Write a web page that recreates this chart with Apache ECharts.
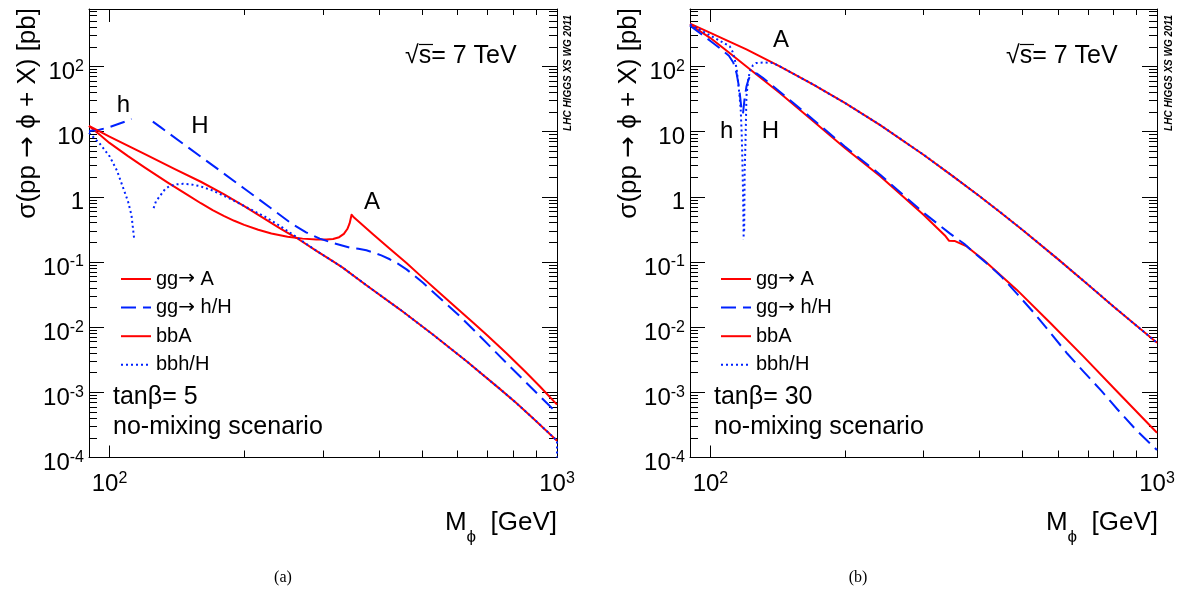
<!DOCTYPE html>
<html><head><meta charset="utf-8">
<script src="https://cdn.jsdelivr.net/npm/echarts@6/dist/echarts.min.js"></script>
<style>html,body{margin:0;padding:0;background:#fff}#c{width:1182px;height:597px}</style>
</head><body><div id="c"></div>
<script>
const FONT = '"Liberation Sans", Arial, Helvetica, sans-serif';
const AFONT = '"DejaVu Sans", sans-serif';
const xMin = 90, xMax = 1000, yMin = 1e-4, yMax = 760;
const xMajorTicks = [100, 1000];
const xMinorTicks = [200, 300, 400, 500, 600, 700, 800, 900];
const yDecades = [1e-4, 1e-3, 1e-2, 1e-1, 1, 10, 100];
const yMinorMult = [2, 3, 4, 5, 6, 7, 8, 9];
const legendNames = ['gg→ A', 'gg→ h/H', 'bbA', 'bbh/H'];

// ---- tan(beta) = 5 ----
const ggA5 = [[90,12.2],[95,9.0],[100,6.7],[110,4.2],[120,2.8],[135,1.65],[150,1.05],[160,0.796],[170,0.625],[180,0.509],[190,0.428],[200,0.371],[215,0.312],[230,0.274],[250,0.244],[270,0.228],[290,0.221],[305,0.221],[316,0.225],[326,0.24],[334,0.27],[340,0.32],[344,0.39],[347.5,0.53],[352,0.48],[388,0.267],[423,0.16],[461,0.0966],[500,0.058],[547,0.0335],[600,0.019],[650,0.01167],[700,0.00737],[771,0.00398],[850,0.00207],[916,0.00123],[1000,0.000647]];
const ggh5 = [[90,10.2],[95,10.7],[100,11.7],[105,13.2],[110,14.8],[112,15.6]];
const ggH5 = [[125,14.2],[130,11.7],[150,5.7],[175,2.63],[200,1.34],[230,0.66],[255,0.39],[275,0.285],[295,0.228],[316,0.195],[344,0.166],[360,0.160],[375,0.151],[390,0.139],[405,0.126],[423,0.110],[440,0.095],[461,0.077],[502,0.048],[547,0.028],[600,0.0158],[650,0.0092],[771,0.00282],[916,0.00087],[1000,0.00048]];
const bbA5 = [[90,12.2],[100,8.4],[120,4.5],[140,2.65],[160,1.7],[180,1.1],[200,0.72],[220,0.48],[240,0.33],[262,0.233],[290,0.148],[316,0.102],[332,0.082],[375,0.044],[446,0.0186],[528,0.0077],[628,0.0030],[745,0.00113],[810,0.00069],[885,0.000398],[1000,0.000181]];
const bbh5 = [[90,9.6],[95,6.6],[100,4.2],[104,2.5],[107,1.44],[110,0.85],[112,0.52],[113.5,0.23]];
const bbH5 = [[125.5,0.67],[127,0.85],[129.4,1.01],[133,1.3],[136,1.45],[141,1.55],[146,1.58],[152,1.55],[159,1.46],[170,1.25],[188,0.9],[205,0.66],[222,0.5],[240,0.36],[262,0.24],[290,0.148],[316,0.102],[332,0.082],[375,0.044],[446,0.0186],[528,0.0077],[628,0.0030],[745,0.00113],[810,0.00069],[885,0.000398],[1000,0.000181],[1000,0.0001]];

// ---- tan(beta) = 30 ----
const ggA30 = [[90,440],[100,272],[110,163],[120.4,100],[143,39],[170,14.4],[200,5.6],[240,2.06],[300,0.53],[335,0.255],[342,0.212],[344,0.226],[352,0.21],[375,0.173],[408.6,0.108],[485,0.0376],[577,0.0116],[684,0.00356],[815,0.00102],[1000,0.00024]];
const ggh30 = [[90,421],[95,320],[100,245],[105,190],[110,146],[112.5,115],[114.4,79],[115.5,55],[116.3,39],[117.4,21.7]];
const ggH30 = [[118.3,19],[119.3,33],[120.4,49],[121.5,61],[122.5,70],[124.5,77],[126.8,78],[131,67],[143,41],[170,15.2],[200,5.9],[240,2.18],[300,0.57],[344,0.272],[370,0.19],[395,0.128],[423,0.086],[450,0.058],[485,0.033],[530,0.0166],[577,0.0082],[630,0.0039],[684,0.0021],[750,0.00106],[815,0.00055],[900,0.00026],[1000,0.00013]];
const bbA30 = [[90,452],[100,327],[110,242],[120.4,182],[143,100],[170,52.7],[200,27.5],[240,12.6],[300,4.42],[350,2.04],[400,1.027],[450,0.55],[500,0.31],[600,0.1105],[700,0.0452],[800,0.0206],[900,0.0105],[1000,0.00576]];
const bbh30 = [[90,440],[95,360],[101.4,282],[105,247],[108,222],[110.5,203],[112,170],[113.4,127],[114.5,90],[115.3,59],[116.2,35],[116.9,21.7],[117.5,9],[117.9,3.7],[118.3,1.2],[118.7,0.22]];
const bbH30 = [[119.0,0.3],[119.3,2.5],[119.8,6.7],[120.4,35],[121.5,62],[122.5,84],[124.5,104],[126.8,113],[132.2,115],[138,113],[143,100],[170,52.7],[200,27.5],[240,12.6],[300,4.42],[350,2.04],[400,1.027],[450,0.55],[500,0.31],[600,0.1105],[700,0.0452],[800,0.0206],[900,0.0105],[1000,0.00576]];

const yMajorTicks = yDecades.slice();
const yMinorTicks = [];
yDecades.forEach(d => yMinorMult.forEach(m => { if (d * m <= yMax) yMinorTicks.push(d * m); }));

const RED = '#ff0000', BLUE = '#0022ff';
const DASH = [15, 7], DOT = [2, 3];
const RICH = {
  b: { fontFamily: FONT, fontSize: 24, color: '#000', verticalAlign: 'bottom', lineHeight: 26 },
  s: { fontFamily: FONT, fontSize: 16, color: '#000', verticalAlign: 'top', lineHeight: 16 }
};
function powLabel(v) {
  const e = Math.round(Math.log10(v));
  if (e === 0) return '{b|1}';
  if (e === 1) return '{b|10}';
  return '{b|10}{s|' + e + '}';
}
const BLACK = { color: '#000', width: 1 };

function xAxesFor(gi) {
  const base = { gridIndex: gi, type: 'log', logBase: 10, min: xMin, max: xMax, splitLine: { show: false }, minorTick: { show: false }, minorSplitLine: { show: false } };
  return [
    Object.assign({}, base, { position: 'bottom', axisLine: { show: true, lineStyle: BLACK }, axisTick: { show: true, inside: true, length: 12, customValues: xMajorTicks, lineStyle: BLACK }, axisLabel: { show: true, customValues: xMajorTicks, formatter: powLabel, rich: RICH, margin: 13 } }),
    Object.assign({}, base, { position: 'bottom', axisLine: { show: false }, axisTick: { show: true, inside: true, length: 7, customValues: xMinorTicks, lineStyle: BLACK }, axisLabel: { show: false } }),
    Object.assign({}, base, { position: 'top', axisLine: { show: true, lineStyle: BLACK }, axisTick: { show: true, inside: true, length: 13, customValues: xMajorTicks, lineStyle: BLACK }, axisLabel: { show: false } }),
    Object.assign({}, base, { position: 'top', axisLine: { show: false }, axisTick: { show: true, inside: true, length: 6, customValues: xMinorTicks, lineStyle: BLACK }, axisLabel: { show: false } })
  ];
}
function yAxesFor(gi) {
  const base = { gridIndex: gi, type: 'log', logBase: 10, min: yMin, max: yMax, splitLine: { show: false }, minorTick: { show: false }, minorSplitLine: { show: false } };
  return [
    Object.assign({}, base, { position: 'left', axisLine: { show: true, lineStyle: BLACK }, axisTick: { show: true, inside: true, length: 15, customValues: yMajorTicks, lineStyle: BLACK }, axisLabel: { show: true, customValues: yMajorTicks, formatter: powLabel, rich: RICH, margin: 5, padding: [10, 0, 0, 0] } }),
    Object.assign({}, base, { position: 'left', axisLine: { show: false }, axisTick: { show: true, inside: true, length: 8, customValues: yMinorTicks, lineStyle: BLACK }, axisLabel: { show: false } }),
    Object.assign({}, base, { position: 'right', axisLine: { show: true, lineStyle: BLACK }, axisTick: { show: true, inside: true, length: 15, customValues: yMajorTicks, lineStyle: BLACK }, axisLabel: { show: false } }),
    Object.assign({}, base, { position: 'right', axisLine: { show: false }, axisTick: { show: true, inside: true, length: 8, customValues: yMinorTicks, lineStyle: BLACK }, axisLabel: { show: false } })
  ];
}
function ser(name, data, gi, color, type, z) {
  return { type: 'line', name, data, xAxisIndex: gi * 4, yAxisIndex: gi * 4, showSymbol: false, symbol: 'none', clip: true, z: z,
    smooth: false,
    lineStyle: { color, width: 2, type: type, cap: 'butt', join: 'round' }, itemStyle: { color }, emphasis: { disabled: true }, animation: false };
}
function seriesFor(gi, ggA, ggh, ggH, bbA, bbh, bbH) {
  return [
    ser(legendNames[0], ggA, gi, RED, 'solid', 2),
    ser(legendNames[1], ggh, gi, BLUE, DASH, 3),
    ser(legendNames[1], ggH, gi, BLUE, DASH, 3),
    ser(legendNames[2], bbA, gi, RED, 'solid', 4),
    ser(legendNames[3], bbh, gi, BLUE, DOT, 5),
    ser(legendNames[3], bbH, gi, BLUE, DOT, 5)
  ];
}
function T(x, y, text, size, extra) {
  return { type: 'text', x, y, z: 100, silent: true, style: Object.assign({ text, fontFamily: FONT, fontSize: size, fill: '#000', align: 'left', verticalAlign: 'middle', textAlign: 'left', textVerticalAlign: 'middle' }, extra || {}) };
}
const XT_RICH = {
  m: { fontFamily: FONT, fontSize: 26, color: '#000', verticalAlign: 'top', lineHeight: 36 },
  s: { fontFamily: FONT, fontSize: 17, color: '#000', verticalAlign: 'bottom', lineHeight: 36 }
};
const YT_RICH = {
  t: { fontFamily: FONT, fontSize: 26, color: '#000' },
  a: { fontFamily: AFONT, fontSize: 26, color: '#000' }
};
const LEG_RICH = {
  t: { fontFamily: FONT, fontSize: 20, color: '#000', lineHeight: 20 },
  a: { fontFamily: AFONT, fontSize: 20, color: '#000', lineHeight: 20 }
};
function legendFmt(name) {
  const i = name.indexOf('→');
  if (i < 0) return '{t|' + name + '}';
  return '{t|' + name.slice(0, i) + '}{a|→}{t|' + name.slice(i + 1) + '}';
}
function panelText(dx, tb) {
  return [
    Object.assign(T(28 + dx, 8, '{t|σ(pp }{a|→}{t| ϕ + X) [pb]}', 26, { align: 'right', textAlign: 'right', rich: YT_RICH }), { rotation: Math.PI / 2 }),
    T(557 + dx, 528, '{m|M}{s|ϕ}{m|  [GeV]}', 26, { align: 'right', textAlign: 'right', rich: XT_RICH }),
    T(405 + dx, 56, '√s= 7 TeV', 25),
    { type: 'line', z: 100, silent: true, shape: { x1: 419 + dx, y1: 44.5, x2: 433 + dx, y2: 44.5 }, style: { stroke: '#000', lineWidth: 1.2 } },
    Object.assign(T(568 + dx, 15, 'LHC HIGGS XS WG 2011', 10, { align: 'right', textAlign: 'right', fontWeight: 'bold', fontStyle: 'italic' }), { rotation: Math.PI / 2 }),
    T(113 + dx, 397, tb, 25),
    T(113 + dx, 427, 'no-mixing scenario', 25)
  ];
}
function legendFor(left) {
  return { data: legendNames, orient: 'vertical', left: left, top: 269, padding: 0, itemWidth: 30, itemHeight: 14, itemGap: 8.6,
    selectedMode: false, itemStyle: { opacity: 0, borderWidth: 0 }, formatter: legendFmt,
    textStyle: { fontFamily: FONT, fontSize: 20, color: '#000', lineHeight: 20, rich: LEG_RICH } };
}
const option = {
  animation: false,
  backgroundColor: '#fff',
  grid: [
    { left: 89, top: 9, width: 468, height: 448.5, containLabel: false, outerBoundsMode: 'none' },
    { left: 690, top: 9, width: 467, height: 448.5, containLabel: false, outerBoundsMode: 'none' }
  ],
  xAxis: xAxesFor(0).concat(xAxesFor(1)),
  yAxis: yAxesFor(0).concat(yAxesFor(1)),
  legend: [legendFor(120), legendFor(720)],
  series: seriesFor(0, ggA5, ggh5, ggH5, bbA5, bbh5, bbH5).concat(seriesFor(1, ggA30, ggh30, ggH30, bbA30, bbh30, bbH30)),
  graphic: { elements: [].concat(
    panelText(0, 'tanβ= 5'),
    panelText(601, 'tanβ= 30'),
    [
      T(123.5, 105, 'h', 24, { align: 'center', textAlign: 'center' }),
      T(200, 126.5, 'H', 24, { align: 'center', textAlign: 'center' }),
      T(372, 202.5, 'A', 24, { align: 'center', textAlign: 'center' }),
      T(781, 40.5, 'A', 24, { align: 'center', textAlign: 'center' }),
      T(726.7, 131, 'h', 24, { align: 'center', textAlign: 'center' }),
      T(770.5, 131.3, 'H', 24, { align: 'center', textAlign: 'center' }),
      T(283, 578, '(a)', 16, { align: 'center', textAlign: 'center', fontFamily: '"Liberation Serif", "Times New Roman", serif' }),
      T(858, 578, '(b)', 16, { align: 'center', textAlign: 'center', fontFamily: '"Liberation Serif", "Times New Roman", serif' })
    ]) }
};
const chart = echarts.init(document.getElementById('c'), null, { renderer: 'canvas', width: 1182, height: 597 });
chart.setOption(option);
</script></body></html>
